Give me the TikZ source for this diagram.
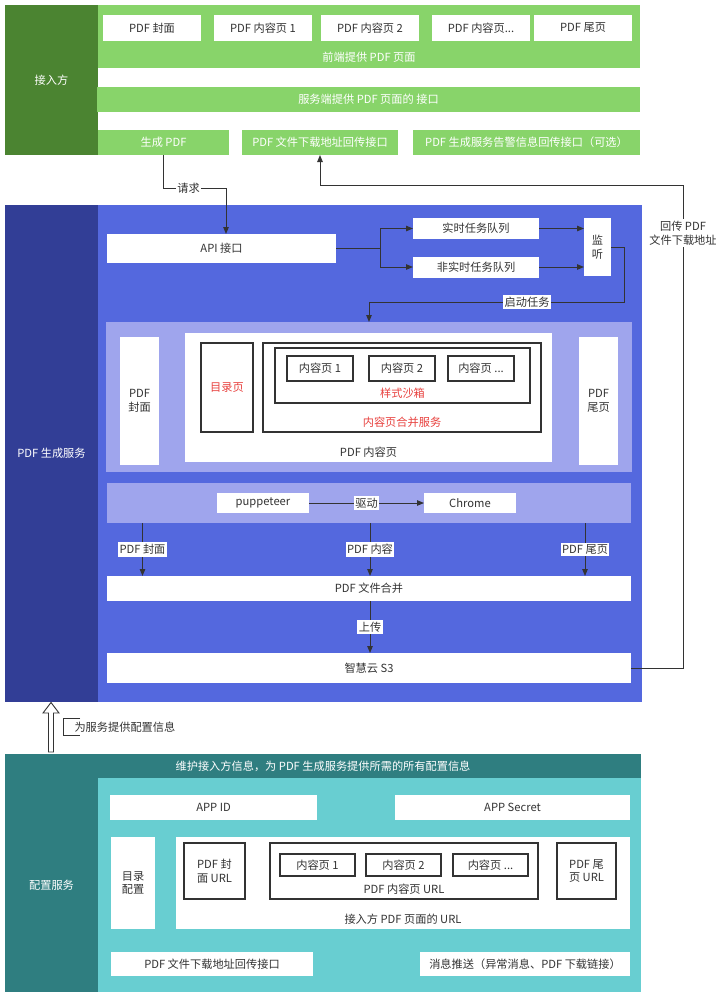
\documentclass[tikz,border=0pt]{standalone}
\usepackage{fontspec}
\setmainfont{Noto Sans CJK SC}
\usetikzlibrary{arrows.meta,calc}
\definecolor{dgreen}{HTML}{4B8431}
\definecolor{lgreen}{HTML}{88D46A}
\definecolor{dblue}{HTML}{323E96}
\definecolor{mblue}{HTML}{5468DE}
\definecolor{lav}{HTML}{9FA5ED}
\definecolor{dteal}{HTML}{2F7E80}
\definecolor{lteal}{HTML}{68CED1}
\definecolor{tred}{HTML}{E8413E}
\definecolor{tgray}{HTML}{333333}
\begin{document}
\begin{tikzpicture}[x=1pt,y=-1pt,
  every node/.style={font=\fontsize{11.2}{13.5}\selectfont, inner sep=0pt, outer sep=0pt, align=center},
  panel/.style={rectangle, text=white},
  wbox/.style={rectangle, fill=white, text=tgray},
  bbox/.style={rectangle, fill=white, draw=tgray, line width=1.1pt, text=tgray},
  arr/.style={draw=tgray, line width=1pt, -{Triangle[length=7pt,width=5.5pt]}},
  lbl/.style={fill=white, text=tgray, inner xsep=1.5pt, inner ysep=2pt},
  plain/.style={draw=tgray, line width=1pt},
  sz/.style 2 args={minimum width=#1pt, minimum height=#2pt}
]
\fill[white] (0,0) rectangle (726,998);
\useasboundingbox (0,0) rectangle (726,998);

% ---------------- 接入方 ----------------
\node[panel, fill=dgreen, sz={93}{150}] (jr) at (51.5,80) {接入方};
\node[panel, fill=lgreen, sz={542}{63}] (front) at (369,36.5) {};
\node[text=white] (frontt) at (369,57) {前端提供 PDF 页面};
\node[wbox, sz={98}{26}] (p1) at (152,28) {PDF 封面};
\node[wbox, sz={98}{26}] (p2) at (263,28) {PDF 内容页 1};
\node[wbox, sz={98}{26}] (p3) at (370,28) {PDF 内容页 2};
\node[wbox, sz={98}{26}] (p4) at (481,28) {PDF 内容页...};
\node[wbox, sz={98}{26}] (p5) at (583,28) {PDF 尾页};
\node[panel, fill=lgreen, sz={543}{25}] (srv) at (368.5,99.5) {服务端提供 PDF 页面的 接口};
\node[panel, fill=lgreen, sz={131}{25}] (gen) at (163.5,142.5) {生成 PDF};
\node[panel, fill=lgreen, sz={156}{25}] (dl) at (320,142.5) {PDF 文件下载地址回传接口};
\node[panel, fill=lgreen, sz={227}{25}] (alert) at (526.5,142.5) {PDF 生成服务告警信息回传接口（可选）};

% ---------------- PDF 生成服务 ----------------
\node[panel, fill=dblue, sz={93}{497}] (gs) at (51.5,453.5) {PDF 生成服务};
\node[panel, fill=mblue, sz={544}{497}] (gmain) at (370,453.5) {};
\node[wbox, sz={229}{29}] (api) at (221.5,248.5) {API 接口};
\node[wbox, sz={126}{21}] (rt) at (476,228.5) {实时任务队列};
\node[wbox, sz={126}{21}] (nrt) at (476,267) {非实时任务队列};
\node[wbox, sz={27}{58}] (jt) at (597.5,247) {监\\听};

\node[rectangle, fill=lav, sz={526}{150}] (lav1) at (369,397) {};
\node[wbox, sz={39}{128}] (cover) at (139.5,401) {PDF\\封面};
\node[wbox, sz={367}{129}] (content) at (368.5,397.5) {};
\node[text=tgray] (contentt) at (368.5,452) {PDF 内容页};
\node[bbox, text=tred, sz={52}{89}] (toc) at (227,387.5) {目录页};
\node[bbox, sz={278}{89}] (merge) at (402,387.5) {};
\node[text=tred] (merget) at (402,422) {内容页合并服务};
\node[bbox, sz={255}{55}] (sandbox) at (402.5,375.5) {};
\node[text=tred] (sandboxt) at (402.5,393) {样式沙箱};
\node[bbox, sz={66}{25}] (c1) at (320,368.5) {内容页 1};
\node[bbox, sz={66}{25}] (c2) at (402,368.5) {内容页 2};
\node[bbox, sz={66}{25}] (c3) at (481,368.5) {内容页 ...};
\node[wbox, sz={39}{128}] (tail) at (598.5,401) {PDF\\尾页};

\node[rectangle, fill=lav, sz={524}{40}] (lav2) at (369,503) {};
\node[wbox, sz={92}{20}] (pup) at (263,503) {puppeteer};
\node[wbox, sz={92}{20}] (chrome) at (470,503) {Chrome};
\node[wbox, sz={524}{25}] (mpdf) at (369,588.5) {PDF 文件合并};
\node[wbox, sz={524}{30}] (s3) at (369,668) {智慧云 S3};

% ---------------- 配置服务 ----------------
\node[panel, fill=dteal, sz={636}{24}] (cfgh) at (323,766) {维护接入方信息，为 PDF 生成服务提供所需的所有配置信息};
\node[panel, fill=dteal, sz={93}{214}] (cfg) at (51.5,885) {配置服务};
\node[rectangle, fill=lteal, sz={543}{214}] (cfgmain) at (369.5,885) {};
\node[wbox, sz={207}{25}] (appid) at (213.5,807.5) {APP ID};
\node[wbox, sz={235}{25}] (appsec) at (512.5,807.5) {APP Secret};
\node[wbox, sz={44}{92}] (toccfg) at (133,883) {目录\\配置};
\node[wbox, sz={454}{92}] (urlbox) at (403,883) {};
\node[text=tgray] (urlboxt) at (403,919) {接入方 PDF 页面的 URL};
\node[bbox, sz={61}{56}] (coverurl) at (214.5,871) {PDF 封\\面 URL};
\node[bbox, sz={268}{56}] (contenturl) at (404,871) {};
\node[text=tgray] (contenturlt) at (404,889) {PDF 内容页 URL};
\node[bbox, sz={75}{22}] (u1) at (317.5,865) {内容页 1};
\node[bbox, sz={75}{22}] (u2) at (403.5,865) {内容页 2};
\node[bbox, sz={75}{22}] (u3) at (490.5,865) {内容页 ...};
\node[bbox, sz={59}{56}] (tailurl) at (586.5,871) {PDF 尾\\页 URL};
\node[wbox, sz={202}{24}] (dlcfg) at (212,964) {PDF 文件下载地址回传接口};
\node[wbox, sz={210}{24}] (msg) at (525,964) {消息推送（异常消息、PDF 下载链接）};

% ---------------- connectors ----------------
\draw[arr] (gen.south) -- ++(0,33) -| node[pos=0.2,lbl]{请求} ([xshift=4.5pt]api.north);
\coordinate (ret) at (683,185);
\draw[arr] (s3.east) -| node[pos=0.95,lbl]{回传 PDF\\文件下载地址} (ret) -| (dl.south);
\draw[arr] (api.east) -- ++(44,0) |- (rt.west);
\draw[arr] (api.east) -- ++(44,0) |- (nrt.west);
\draw[arr] (rt.east) -- (rt.east -| jt.west);
\draw[arr] (nrt.east) -- (nrt.east -| jt.west);
\coordinate (st) at (369,302);
\draw[arr] (jt.east) -- ++(13,0) |- node[pos=0.69,lbl]{启动任务} (st) -- (lav1.north);
\draw[arr] (pup.east) -- node[lbl]{驱动} (chrome.west);
\draw[arr] ([xshift=-226.5pt]lav2.south) -- node[lbl]{PDF 封面} ([xshift=-226.5pt]lav2.south |- mpdf.north);
\draw[arr] ([xshift=1pt]lav2.south) -- node[lbl]{PDF 内容} ([xshift=1pt]lav2.south |- mpdf.north);
\draw[arr] ([xshift=216pt]lav2.south) -- node[lbl]{PDF 尾页} ([xshift=216pt]lav2.south |- mpdf.north);
\draw[arr] ([xshift=1pt]mpdf.south) -- node[lbl]{上传} ([xshift=1pt]s3.north);

% hollow arrow from 配置服务 up to PDF 生成服务
\draw[plain, fill=white, line width=0.9pt] (48.5,752) -- (48.5,713) -- (43,713) -- (51,702.5) -- (59,713) -- (53.5,713) -- (53.5,752) -- cycle;
\draw[plain, line width=0.9pt] (80,718) -- (63,718) -- (63,735) -- (80,735);
\node[anchor=west, text=tgray, fill=white, inner sep=0.5pt] (cfglbl) at (74,727) {为服务提供配置信息};
\end{tikzpicture}
\end{document}
